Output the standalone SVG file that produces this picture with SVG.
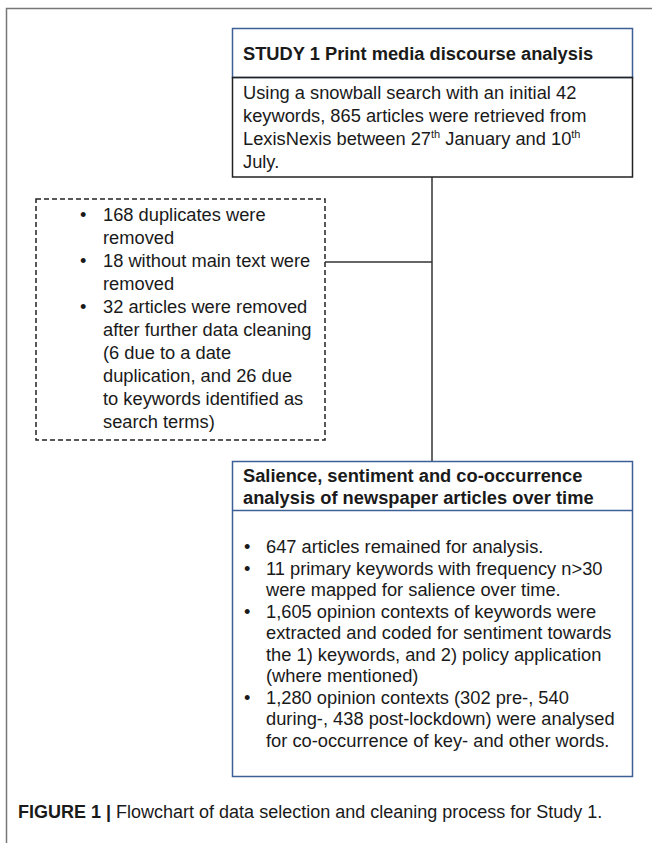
<svg xmlns="http://www.w3.org/2000/svg" width="652" height="843" viewBox="0 0 652 843">
<style>
text{font-family:"Liberation Sans",Arial,Helvetica,sans-serif;fill:#1a1a1a;font-size:18.3px}
.b{font-weight:bold}
.sup{font-size:11px}
.blue{fill:none;stroke:#3d5f96;stroke-width:1.5}
.blk{fill:none;stroke:#222;stroke-width:1.5}
.dash{fill:none;stroke:#222;stroke-width:1.5;stroke-dasharray:5 3}
.conn{fill:none;stroke:#333;stroke-width:1.5}
</style>
<rect width="652" height="843" fill="#fff"/>
<path d="M6.5 843 V8.5 H652" fill="none" stroke="#777" stroke-width="1.5"/>
<g id="connectors">
<line class="conn" x1="432" y1="177" x2="432" y2="461"/>
<line class="conn" x1="325" y1="262" x2="432" y2="262"/>
</g>
<g id="study1">
<rect class="blue" x="232.5" y="28.5" width="400" height="49"/>
<text class="b" x="243" y="60">STUDY 1 Print media discourse analysis</text>
<rect class="blk" x="232.5" y="77.5" width="400" height="99.5"/>
<text x="243" y="99">Using a snowball search with an initial 42</text>
<text x="243" y="122">keywords, 865 articles were retrieved from</text>
<text x="243" y="145">LexisNexis between 27<tspan class="sup" dy="-7">th</tspan><tspan dy="7"> January and 10</tspan><tspan class="sup" dy="-7">th</tspan></text>
<text x="243" y="168">July.</text>
</g>
<g id="excluded">
<rect class="dash" x="36" y="199" width="289" height="241"/>
<text x="80" y="221">•</text>
<text x="103" y="221">168 duplicates were</text>
<text x="103" y="244">removed</text>
<text x="80" y="267">•</text>
<text x="103" y="267">18 without main text were</text>
<text x="103" y="290">removed</text>
<text x="80" y="313">•</text>
<text x="103" y="313">32 articles were removed</text>
<text x="103" y="336">after further data cleaning</text>
<text x="103" y="359">(6 due to a date</text>
<text x="103" y="382">duplication,  and 26 due</text>
<text x="103" y="405">to keywords identified as</text>
<text x="103" y="428">search terms)</text>
</g>
<g id="analysis">
<rect class="blue" x="232.5" y="461.5" width="400" height="315"/>
<line class="blue" x1="232.5" y1="510.5" x2="632.5" y2="510.5"/>
<text class="b" x="243" y="482">Salience, sentiment and co-occurrence</text>
<text class="b" x="243" y="504">analysis of newspaper articles over time</text>
<text x="244" y="553">•</text>
<text x="266" y="553">647 articles remained for analysis.</text>
<text x="244" y="574.5">•</text>
<text x="266" y="574.5">11 primary keywords with frequency n&gt;30</text>
<text x="266" y="596">were mapped for salience over time.</text>
<text x="244" y="617.5">•</text>
<text x="266" y="617.5">1,605 opinion contexts of keywords were</text>
<text x="266" y="639">extracted and coded for sentiment towards</text>
<text x="266" y="660.5">the 1) keywords, and 2) policy application</text>
<text x="266" y="682">(where mentioned)</text>
<text x="244" y="703.5">•</text>
<text x="266" y="703.5">1,280 opinion contexts (302 pre-, 540</text>
<text x="266" y="725">during-, 438 post-lockdown) were analysed</text>
<text x="266" y="746.5">for co-occurrence of key- and other words.</text>
</g>
<text x="18" y="818" style="font-size:18px"><tspan class="b">FIGURE 1 |</tspan> Flowchart of data selection and cleaning process for Study 1.</text>
</svg>
